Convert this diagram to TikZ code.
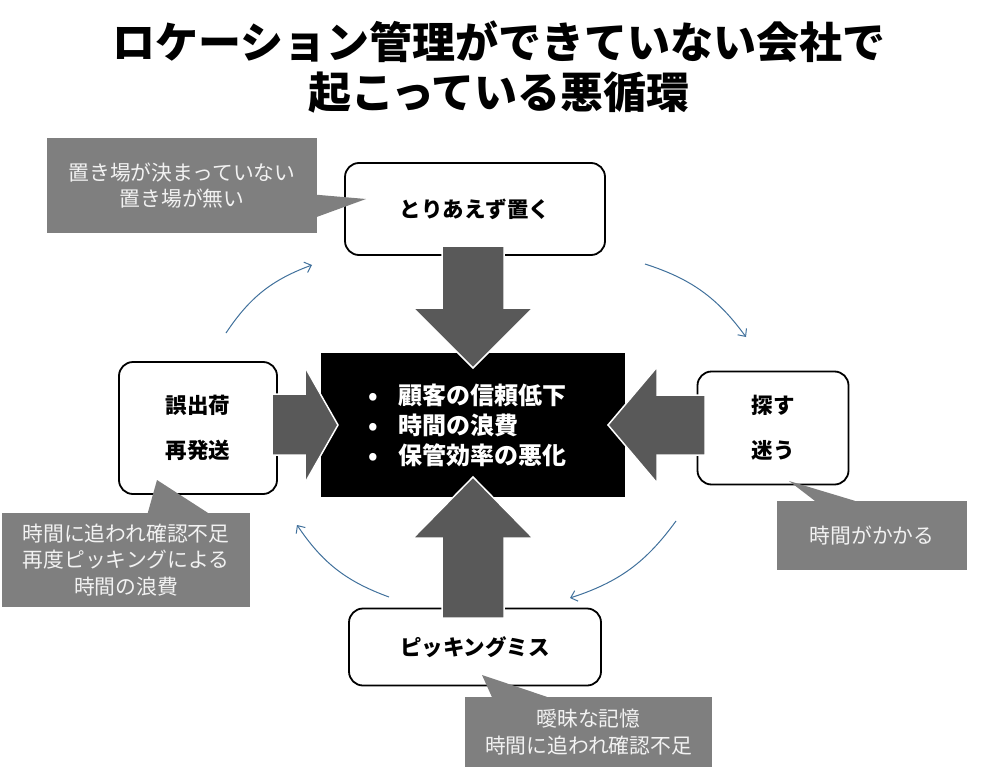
\documentclass[tikz,border=0pt]{standalone}
\usepackage{fontspec}
\setmainfont{Noto Sans CJK JP}
\usetikzlibrary{arrows.meta, calc}
\tikzset{>={Straight Barb[length=6pt,width=11pt]}}
\definecolor{cyclecol}{HTML}{41719C}
\definecolor{arrowgray}{HTML}{595959}
\definecolor{notegray}{HTML}{7F7F7F}
\definecolor{notetext}{HTML}{F2F2F2}

\tikzset{
  stepbox/.style={draw=black, line width=1.8pt, rounded corners=14pt, fill=white,
    font=\bfseries\fontsize{21.5}{26}\selectfont, align=center, inner sep=0pt},
  corebox/.style={fill=black, text=white, font=\bfseries\fontsize{24}{30}\selectfont,
    align=left, inner xsep=47pt, text width=210pt, minimum height=144pt},
  note/.style={fill=notegray, text=notetext, font=\fontsize{20.8}{26.5}\selectfont,
    align=center, inner sep=0pt},
  blk/.style={fill=arrowgray, draw=white, line width=1.5pt, line join=miter},
  cyclearrow/.style={->, draw=cyclecol, line width=1pt},
}
\newcommand{\pt}{\makebox[30pt][l]{•}}

\begin{document}
\begin{tikzpicture}[x=1pt, y=-1pt]
  \useasboundingbox (0,0) rectangle (981,770);

  % title
  \node[font=\bfseries\fontsize{43}{50}\selectfont, align=center] (title) at (499,67)
    {ロケーション管理ができていない会社で\\起こっている悪循環};

  % the four steps and the result
  \node[stepbox, minimum width=260, minimum height=92] (put) at (475,209) {とりあえず置く};
  \node[stepbox, minimum width=151, minimum height=113] (search) at (773,428) {探す\\[19pt]迷う};
  \node[stepbox, minimum width=252, minimum height=77] (miss) at (475,647) {ピッキングミス};
  \node[stepbox, minimum width=158, minimum height=132] (ship) at (198,428) {誤出荷\\[19pt]再発送};
  \node[corebox] (core) at (473,425) {\pt 顧客の信頼低下\\ \pt 時間の浪費\\ \pt 保管効率の悪化};

  % block arrows into the result
  \draw[blk] (442,246) -- (504,246) -- (504,308) -- (533,308) -- (473,368)
    -- (413,308) -- (442,308) -- cycle;
  \draw[blk] (442,618) -- (504,618) -- (504,538) -- (533,538) -- (473,477)
    -- (413,538) -- (442,538) -- cycle;
  \draw[blk] (272,394) -- (305,394) -- (305,367) -- (338,425) -- (305,483)
    -- (305,455) -- (272,455) -- cycle;
  \draw[blk] (705,395) -- (657,395) -- (657,367) -- (608,425) -- (657,483)
    -- (657,455) -- (705,455) -- cycle;

  % notes
  \coordinate (tipA) at (366,199);
  \coordinate (tipB) at (789,481);
  \coordinate (tipC) at (157,480);
  \coordinate (tipD) at (482,675);

  \node[note, minimum width=270, minimum height=95] (noteA) at (182,185.5)
    {置き場が決まっていない\\置き場が無い};
  \fill[notegray] ($(noteA.north east)+(0,57)$) -- (tipA) -- ($(noteA.north east)+(0,79)$) -- cycle;

  \node[note, minimum width=190, minimum height=69] (noteB) at (872,535.5) {時間がかかる};
  \fill[notegray] ($(noteB.north west)+(38,0)$) -- (tipB) -- ($(noteB.north west)+(78,0)$) -- cycle;

  \node[note, minimum width=248, minimum height=94] (noteC) at (126,560)
    {時間に追われ確認不足\\再度ピッキングによる\\時間の浪費};
  \fill[notegray] ($(noteC.north west)+(146,0)$) -- (tipC) -- ($(noteC.north west)+(206,0)$) -- cycle;

  \node[note, minimum width=247, minimum height=70] (noteD) at (588.5,732)
    {曖昧な記憶\\時間に追われ確認不足};
  \fill[notegray] ($(noteD.north west)+(27,0)$) -- (tipD) -- ($(noteD.north west)+(82,0)$) -- cycle;

  % the cycle
  \draw[cyclearrow] (226,333) to[bend left=18] (312,265);
  \draw[cyclearrow] (645,264) to[bend left=18] (746,337);
  \draw[cyclearrow] (676,521) to[bend left=18] (570,598);
  \draw[cyclearrow] (389,597) to[bend left=18] (297,525);
\end{tikzpicture}
\end{document}
